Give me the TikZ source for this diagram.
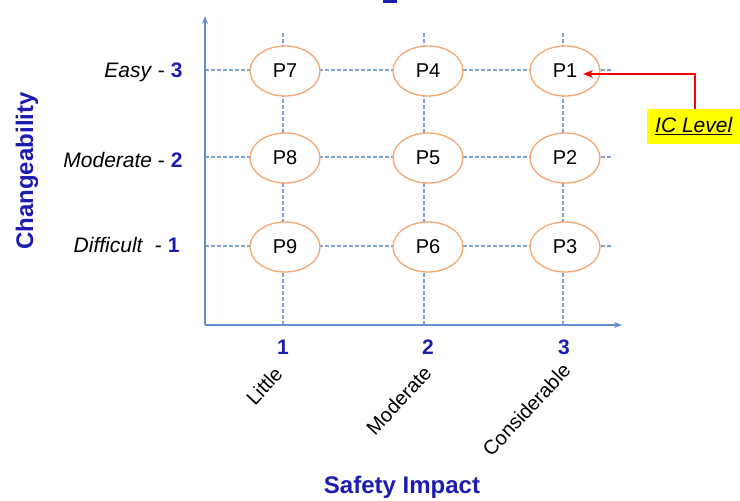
\documentclass[tikz,border=0pt]{standalone}
\usepackage{fontspec}
\setmainfont{Liberation Sans}
\usetikzlibrary{arrows.meta,shapes.geometric}
\definecolor{gridblue}{RGB}{128,162,210}
\definecolor{axisblue}{RGB}{100,145,205}
\definecolor{pborder}{RGB}{245,165,110}
\definecolor{textblue}{RGB}{28,28,178}
\definecolor{icyellow}{RGB}{255,255,0}
\tikzset{
  pnode/.style={ellipse, draw=pborder, line width=1.3pt, fill=white, minimum width=70pt, minimum height=50pt, inner sep=0pt, font=\fontsize{20}{24}\selectfont},
  gridline/.style={gridblue, dashed, dash pattern=on 4pt off 2pt, line width=1.4pt},
  axisline/.style={axisblue, line width=1.8pt, -{Stealth[length=8pt,width=6pt]}},
  rowlabel/.style={anchor=east, font=\fontsize{21}{24}\selectfont},
  colnum/.style={textblue, font=\fontsize{21}{24}\selectfont\bfseries},
  collabel/.style={anchor=east, rotate=47, font=\fontsize{20}{23}\selectfont},
  axistitle/.style={textblue, font=\fontsize{24}{28}\selectfont\bfseries}
}
\begin{document}
\begin{tikzpicture}[x=1pt,y=-1pt]
\useasboundingbox (0,0) rectangle (740,501);
% top cropped mark
\fill[textblue] (383,0) rectangle (397,2.5);
% axes corner
\coordinate (origin) at (205,325);
\coordinate (ytop) at (205,16);
\coordinate (xend) at (622,325);
% grid coordinates
\coordinate (c1b) at (283,325); \coordinate (c1t) at (283,32);
\coordinate (c2b) at (424,325); \coordinate (c2t) at (424,32);
\coordinate (c3b) at (563,325); \coordinate (c3t) at (563,32);
\coordinate (r1l) at (205,70);  \coordinate (r1r) at (612,70);
\coordinate (r2l) at (205,157); \coordinate (r2r) at (612,157);
\coordinate (r3l) at (205,246); \coordinate (r3r) at (612,246);
% grid
\draw[gridline] (c1b) -- (c1t);
\draw[gridline] (c2b) -- (c2t);
\draw[gridline] (c3b) -- (c3t);
\draw[gridline] (r1l) -- (r1r);
\draw[gridline] (r2l) -- (r2r);
\draw[gridline] (r3l) -- (r3r);
% axes
\draw[axisline] (origin) -- (ytop);
\draw[axisline] (origin) -- (xend);
% P nodes
\node[pnode] (p7) at (285,71) {P7};
\node[pnode] (p4) at (428,71) {P4};
\node[pnode] (p1) at (565,71) {P1};
\node[pnode] (p8) at (285,158) {P8};
\node[pnode] (p5) at (428,158) {P5};
\node[pnode] (p2) at (565,158) {P2};
\node[pnode] (p9) at (285,247) {P9};
\node[pnode] (p6) at (428,247) {P6};
\node[pnode] (p3) at (565,247) {P3};
% row labels
\node[rowlabel] (l3) at (186,72) {\textit{Easy} - \textcolor{textblue}{\textbf{3}}};
\node[rowlabel] (l2) at (186,160) {\textit{Moderate} - \textcolor{textblue}{\textbf{2}}};
\node[rowlabel] (l1) at (183,245) {\textit{Difficult}\ \ - \textcolor{textblue}{\textbf{1}}};
% column numbers
\node[colnum] (n1) at (283,347) {1};
\node[colnum] (n2) at (428,347) {2};
\node[colnum] (n3) at (564,347) {3};
% column labels
\node[collabel] (t1) at (281,368) {Little};
\node[collabel] (t2) at (430,367) {Moderate};
\node[collabel] (t3) at (569,364) {Considerable};
% axis titles
\node[axistitle] (sx) at (402,487) {Safety Impact};
\node[axistitle, rotate=90] (sy) at (27,171) {Changeability};
% IC level
\node[anchor=west, fill=icyellow, inner xsep=8pt, minimum height=35pt, font=\fontsize{21}{24}\selectfont\itshape] (ic) at (647,126) {\underline{IC Level}};
\coordinate (icstart) at (695,109);
\draw[red, line width=1.4pt, -{Stealth[length=10pt,width=8pt]}] (icstart) |- ([xshift=18pt,yshift=-3pt]p1.center);
\end{tikzpicture}
\end{document}
